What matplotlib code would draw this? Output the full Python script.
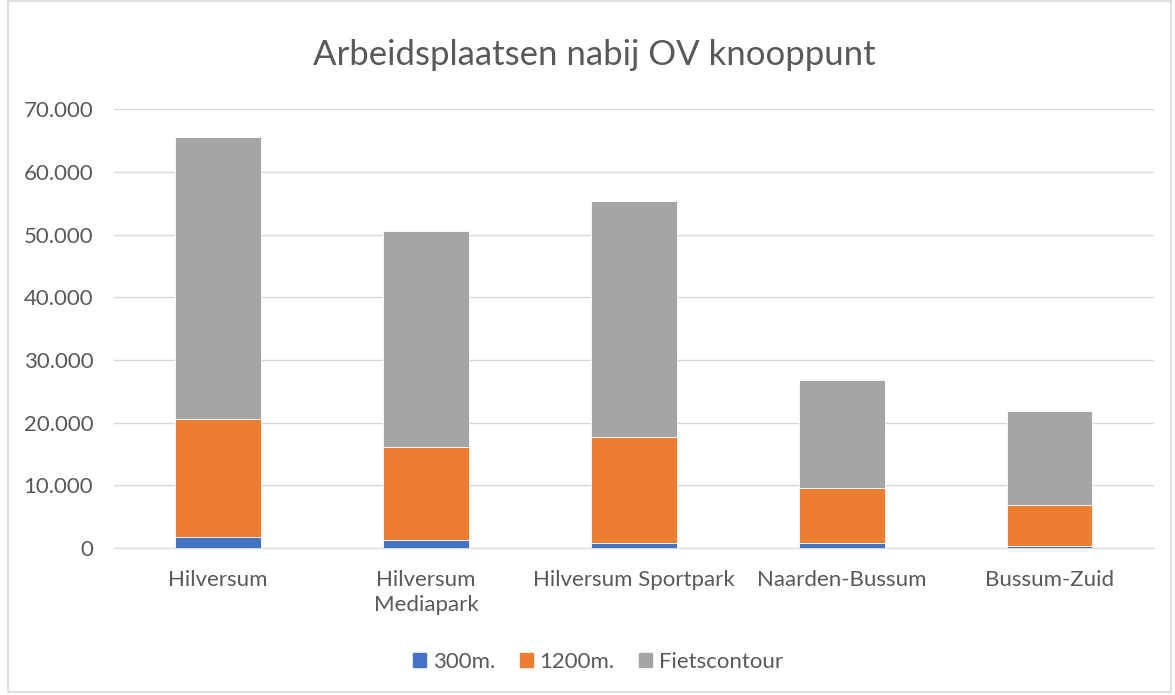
import matplotlib.pyplot as plt
import matplotlib.patches as mpatches
from matplotlib.ticker import FuncFormatter

plt.rcParams['font.family'] = ['Lato', 'DejaVu Sans']

stations = ["Hilversum", "Hilversum\nMediapark", "Hilversum Sportpark", "Naarden-Bussum", "Bussum-Zuid"]
r300 = [1820, 1280, 860, 800, 320]
r1200 = [18750, 14830, 16840, 8770, 6470]
fiets = [44980, 34490, 37690, 17270, 15000]
series_names = ["300m.", "1200m.", "Fietscontour"]
colors = ["#4472C4", "#ED7D31", "#A5A5A5"]
text_col = "#595959"

fig = plt.figure(figsize=(11.75, 6.95), dpi=100)
ax = fig.add_axes([0.097, 0.2115, 0.885, 0.6312])

x = range(len(stations))
bottom = [0] * len(stations)
for vals, name, c in zip([r300, r1200, fiets], series_names, colors):
    ax.bar(x, vals, width=0.41, bottom=bottom, color=c, label=name,
           edgecolor="white", linewidth=0.6, zorder=3)
    bottom = [b + v for b, v in zip(bottom, vals)]

ax.set_ylim(0, 70000)
ax.set_xlim(-0.5, len(stations) - 0.5)
ax.set_yticks(range(0, 70001, 10000))
ax.yaxis.set_major_formatter(FuncFormatter(lambda v, p: f"{int(v):,}".replace(",", ".")))
ax.set_xticks(list(x))
ax.set_xticklabels(stations, linespacing=1.3)
ax.grid(axis="y", color="#D9D9D9", linewidth=1, zorder=0)
for s in ["top", "right", "left"]:
    ax.spines[s].set_visible(False)
ax.spines["bottom"].set_color("#D9D9D9")
ax.tick_params(axis="both", length=0, labelsize=16, colors=text_col)
ax.tick_params(axis="x", pad=16)
ax.tick_params(axis="y", pad=15)

fig.text(0.506, 0.921, "Arbeidsplaatsen nabij OV knooppunt", ha="center", va="center",
         fontsize=25, color=text_col)

handles = [mpatches.Patch(color=c, label=n) for c, n in zip(colors, series_names)]
fig.legend(handles=handles, loc="center", bbox_to_anchor=(0.509, 0.048), ncol=3, frameon=False,
           fontsize=16, labelcolor=text_col, handlelength=0.6, handleheight=0.6,
           handletextpad=0.3, columnspacing=1.1)

fig.add_artist(mpatches.Rectangle((0.007, 0.004), 0.99, 0.994, transform=fig.transFigure,
                                  fill=False, edgecolor="#D9D9D9", linewidth=1.2))

fig.savefig("out.png", dpi=100)
